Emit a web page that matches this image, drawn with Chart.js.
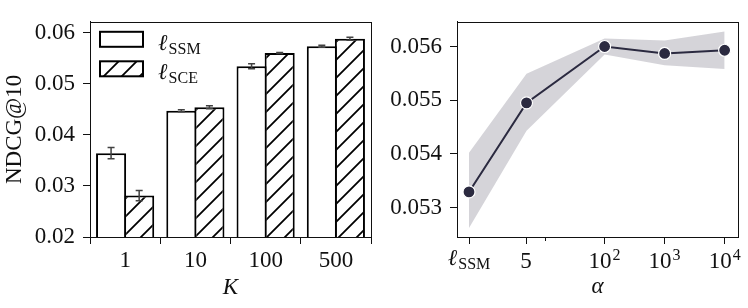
<!DOCTYPE html>
<html>
<head>
<meta charset="utf-8">
<script src="https://cdn.jsdelivr.net/npm/chart.js@4.4.1/dist/chart.umd.min.js"></script>
<style>
  html, body { margin: 0; padding: 0; background: #fff; }
  #wrap { position: relative; width: 748px; height: 308px; }
  #left { position: absolute; left: 0; top: 0; }
  #right { position: absolute; left: 380px; top: 0; }
</style>
</head>
<body>
<div id="wrap">
  <canvas id="left" width="380" height="308"></canvas>
  <canvas id="right" width="368" height="308"></canvas>
</div>
<script>
// left panel: NDCG@10 per K
const kLabels = ['1', '10', '100', '500'];
const ssmMean = [0.0364, 0.0447, 0.0534, 0.0573];
const ssmErr = [0.0011, 0.0002, 0.0005, 0.0002];
const sceMean = [0.0281, 0.0454, 0.0560, 0.0588];
const sceErr = [0.0010, 0.0003, 0.0001, 0.0003];
const ndcgTicks = [0.02, 0.03, 0.04, 0.05, 0.06];

// right panel: NDCG@10 vs alpha (first point is the l_SSM baseline)
const alphaPos = [0.55, 5, 100, 1000, 10000];
const alphaLabels = [['ℓ', 'SSM', ''], ['5', '', ''], ['10', '', '2'], ['10', '', '3'], ['10', '', '4']];
const alphaMean = [0.05329, 0.05495, 0.05600, 0.05587, 0.05593];
const alphaLo = [0.05262, 0.05443, 0.05585, 0.05565, 0.05558];
const alphaHi = [0.05402, 0.05549, 0.05615, 0.05611, 0.05628];
const alphaTicks = [0.053, 0.054, 0.055, 0.056];

const FONT = "'Liberation Serif', 'DejaVu Serif', serif";
const FS = 23;
Chart.defaults.font.family = FONT;
Chart.defaults.font.size = FS;
Chart.defaults.color = '#111';

const lineColor = '#2b2a40';

// base text with optional subscript / superscript; align 'center' or 'left'
function drawRich(ctx, parts, x, y, align) {
  const [base, sub, sup] = parts;
  const small = 16;
  const baseFont = (base === 'ℓ' ? 'italic ' : '') + FS + 'px ' + FONT;
  ctx.font = baseFont;
  const wb = ctx.measureText(base).width;
  ctx.font = small + 'px ' + FONT;
  const ws = ctx.measureText(sub || sup || '').width;
  const x0 = align === 'left' ? x : x - (wb + ws + 1) / 2;
  ctx.textAlign = 'left';
  ctx.textBaseline = 'alphabetic';
  ctx.fillStyle = '#111';
  ctx.font = baseFont;
  ctx.fillText(base, x0, y);
  ctx.font = small + 'px ' + FONT;
  if (sub) ctx.fillText(sub, x0 + wb + 1, y + 4);
  if (sup) ctx.fillText(sup, x0 + wb + 1, y - 8);
}

function makeHatch() {
  const s = 18;
  const c = document.createElement('canvas');
  c.width = s; c.height = s;
  const g = c.getContext('2d');
  g.fillStyle = '#fff';
  g.fillRect(0, 0, s, s);
  g.strokeStyle = '#000';
  g.lineWidth = 1.8;
  g.beginPath();
  g.moveTo(-2, s + 2); g.lineTo(s + 2, -2);
  g.moveTo(-2, 2); g.lineTo(2, -2);
  g.moveTo(s - 2, s + 2); g.lineTo(s + 2, s - 2);
  g.stroke();
  return g.createPattern(c, 'repeat');
}

const boxPlugin = {
  id: 'box',
  afterDraw(chart) {
    const a = chart.chartArea, ctx = chart.ctx;
    ctx.save();
    ctx.strokeStyle = '#111';
    ctx.lineWidth = 1;
    ctx.strokeRect(Math.round(a.left) + 0.5, Math.round(a.top) + 0.5,
      Math.round(a.right - a.left), Math.round(a.bottom - a.top));
    ctx.restore();
  }
};

const errPlugin = {
  id: 'errbars',
  afterDatasetsDraw(chart) {
    const ctx = chart.ctx, ys = chart.scales.y;
    const errs = [ssmErr, sceErr];
    ctx.save();
    ctx.strokeStyle = '#424242';
    ctx.lineWidth = 1.5;
    chart.data.datasets.forEach((ds, d) => {
      chart.getDatasetMeta(d).data.forEach((bar, i) => {
        const v = ds.data[i], e = errs[d][i];
        const y1 = ys.getPixelForValue(v + e), y2 = ys.getPixelForValue(v - e);
        ctx.beginPath();
        ctx.moveTo(bar.x, y1); ctx.lineTo(bar.x, y2);
        ctx.moveTo(bar.x - 3.5, y1); ctx.lineTo(bar.x + 3.5, y1);
        ctx.moveTo(bar.x - 3.5, y2); ctx.lineTo(bar.x + 3.5, y2);
        ctx.stroke();
      });
    });
    ctx.restore();
  }
};

const hatch = makeHatch();

const legendPlugin = {
  id: 'mathLegend',
  afterDraw(chart) {
    const a = chart.chartArea, ctx = chart.ctx;
    const items = [['ℓ', 'SSM', ''], ['ℓ', 'SCE', '']];
    ctx.save();
    items.forEach((it, k) => {
      const x = a.left + 10, y = a.top + 10 + k * 29.5;
      ctx.fillStyle = k === 0 ? '#fff' : hatch;
      ctx.fillRect(x, y, 43, 15);
      ctx.strokeStyle = '#000';
      ctx.lineWidth = 2;
      ctx.strokeRect(x, y, 43, 15);
      drawRich(ctx, it, x + 58, y + 18, 'left');
    });
    ctx.restore();
  }
};

new Chart(document.getElementById('left'), {
  type: 'bar',
  data: {
    labels: kLabels,
    datasets: [
      { label: 'SSM', data: ssmMean, backgroundColor: '#fff', borderColor: '#000',
        borderWidth: 2, borderSkipped: false, categoryPercentage: 0.8, barPercentage: 1.07 },
      { label: 'SCE', data: sceMean, backgroundColor: hatch, borderColor: '#000',
        borderWidth: 2, borderSkipped: false, categoryPercentage: 0.8, barPercentage: 1.07 }
    ]
  },
  options: {
    responsive: false,
    animation: false,
    layout: { padding: { left: 0, right: 9, top: 7, bottom: 0 } },
    plugins: { legend: { display: false }, tooltip: { enabled: false } },
    scales: {
      x: {
        grid: { drawOnChartArea: false, tickLength: 7, color: '#111' },
        border: { color: '#111', width: 1 },
        ticks: { padding: 3, color: '#111' },
        title: { display: true, text: 'K', font: { size: FS, style: 'italic' }, padding: { top: 0, bottom: 6 } },
        afterFit: s => { s.height = 71; }
      },
      y: {
        min: 0.02, max: 0.0621, bounds: 'data',
        afterBuildTicks: s => { s.ticks = ndcgTicks.map(v => ({ value: v })); },
        grid: { drawOnChartArea: false, tickLength: 7, color: '#111' },
        border: { color: '#111', width: 1 },
        ticks: { padding: 8, color: '#111', callback: v => v.toFixed(2) },
        title: { display: true, text: 'NDCG@10', font: { size: FS }, padding: { top: 1, bottom: 0 } },
        afterFit: s => { s.width = 90; }
      }
    }
  },
  plugins: [errPlugin, boxPlugin, legendPlugin]
});

const alphaTickPlugin = {
  id: 'alphaTicks',
  afterDraw(chart) {
    const xs = chart.scales.x, a = chart.chartArea, ctx = chart.ctx;
    ctx.save();
    alphaPos.forEach((v, i) => {
      const lab = alphaLabels[i];
      drawRich(ctx, lab, xs.getPixelForValue(v), a.bottom + (lab[1] ? 28 : 31), 'center');
    });
    // minor tick at 10
    const mx = Math.round(xs.getPixelForValue(10)) + 0.5;
    ctx.strokeStyle = '#111';
    ctx.lineWidth = 1;
    ctx.beginPath();
    ctx.moveTo(mx, a.bottom); ctx.lineTo(mx, a.bottom + 4);
    ctx.stroke();
    ctx.restore();
  }
};

new Chart(document.getElementById('right'), {
  type: 'line',
  data: {
    datasets: [
      { data: alphaPos.map((x, i) => ({ x, y: alphaMean[i] })), borderColor: lineColor, borderWidth: 2,
        pointRadius: 6, pointBackgroundColor: lineColor, pointBorderColor: '#fff', pointBorderWidth: 1.2,
        fill: false, tension: 0 },
      { data: alphaPos.map((x, i) => ({ x, y: alphaLo[i] })), borderWidth: 0, pointRadius: 0, fill: false },
      { data: alphaPos.map((x, i) => ({ x, y: alphaHi[i] })), borderWidth: 0, pointRadius: 0,
        fill: '-1', backgroundColor: 'rgba(43,42,64,0.2)' }
    ]
  },
  options: {
    responsive: false,
    animation: false,
    layout: { padding: { left: 0, right: 10, top: 7, bottom: 0 } },
    plugins: { legend: { display: false }, tooltip: { enabled: false } },
    scales: {
      x: {
        type: 'logarithmic', min: 0.347, max: 16700, bounds: 'data',
        afterBuildTicks: s => { s.ticks = alphaPos.map(v => ({ value: v })); },
        grid: { drawOnChartArea: false, tickLength: 7, color: '#111' },
        border: { color: '#111', width: 1 },
        ticks: { autoSkip: false, maxRotation: 0, callback: () => '' },
        title: { display: true, text: 'α', font: { size: FS, style: 'italic' }, padding: { top: 0, bottom: 7 } },
        afterFit: s => { s.height = 71; }
      },
      y: {
        min: 0.05245, max: 0.05646, bounds: 'data',
        afterBuildTicks: s => { s.ticks = alphaTicks.map(v => ({ value: v })); },
        grid: { drawOnChartArea: false, tickLength: 7, color: '#111' },
        border: { color: '#111', width: 1 },
        ticks: { padding: 8, color: '#111', callback: v => v.toFixed(3) },
        afterFit: s => { s.width = 77; }
      }
    }
  },
  plugins: [boxPlugin, alphaTickPlugin]
});
</script>
</body>
</html>
